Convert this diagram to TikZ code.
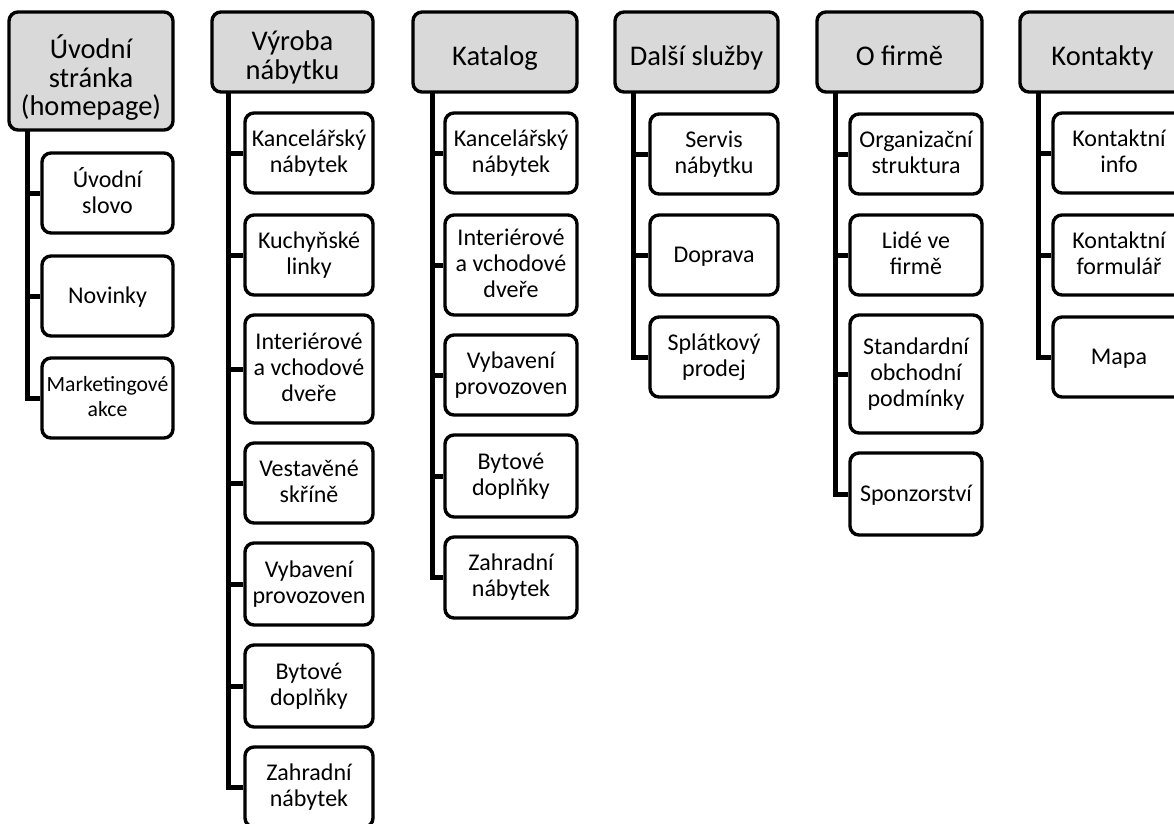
\documentclass[tikz,border=0pt]{standalone}
\usepackage{fontspec}
\setmainfont{Carlito}
\definecolor{headgray}{HTML}{D9D9D9}
\newcommand{\toppad}[1]{\rule{0pt}{#1em}}
\tikzset{
  box/.style={draw=black, line width=3.4pt, rounded corners=9pt, inner sep=0pt, align=center, text=black,
    execute at begin node={\vphantom{Ý}}, execute at end node={\vphantom{gy}}},
  headbox/.style={box, fill=headgray, font=\fontsize{28.5}{28.5}\selectfont,
    execute at begin node={\rule{0pt}{1.15em}}},
  childbox/.style={box, fill=white, font=\fontsize{24}{26}\selectfont},
  conn/.style={draw=black, line width=5pt, line join=miter},
}
\begin{document}
\begin{tikzpicture}[x=1pt, y=1pt]
\useasboundingbox (0,0) rectangle (1174,-823);
\clip (0,0) rectangle (1174,-823);
% ---------- Column 1
\node[headbox, minimum width=164, minimum height=118] (h1) at (91,-71) {\toppad{1.3}Úvodní\\stránka\\(homepage)};
\node[childbox, minimum width=131, minimum height=80] (c11) at (107.5,-193) {Úvodní\\slovo};
\node[childbox, minimum width=131, minimum height=80] (c12) at (107.5,-296) {Novinky};
\node[childbox, minimum width=131, minimum height=80, font=\fontsize{21.7}{25}\selectfont] (c13) at (107.5,-398) {Marketingové\\akce};
\coordinate (t1) at (27,-130);
% ---------- Column 2
\node[headbox, minimum width=161, minimum height=80] (h2) at (292.5,-52) {\toppad{1.08}Výroba\\nábytku};
\node[childbox, minimum width=128, minimum height=80] (c21) at (309,-153) {Kancelářský\\nábytek};
\node[childbox, minimum width=128, minimum height=80] (c22) at (309,-255) {Kuchyňské\\linky};
\node[childbox, minimum width=128, minimum height=108] (c23) at (309,-369) {Interiérové\\a vchodové\\dveře};
\node[childbox, minimum width=128, minimum height=80] (c24) at (309,-483) {Vestavěné\\skříně};
\node[childbox, minimum width=128, minimum height=82] (c25) at (309,-584) {Vybavení\\provozoven};
\node[childbox, minimum width=128, minimum height=82] (c26) at (309,-686) {Bytové\\doplňky};
\node[childbox, minimum width=128, minimum height=80] (c27) at (309,-787) {Zahradní\\nábytek};
\coordinate (t2) at (228,-92);
% ---------- Column 3
\node[headbox, minimum width=164, minimum height=80] (h3) at (495,-52) {Katalog};
\node[childbox, minimum width=132, minimum height=80] (c31) at (511,-153) {Kancelářský\\nábytek};
\node[childbox, minimum width=132, minimum height=100] (c32) at (511,-265) {Interiérové\\a vchodové\\dveře};
\node[childbox, minimum width=132, minimum height=80] (c33) at (511,-375) {Vybavení\\provozoven};
\node[childbox, minimum width=132, minimum height=82] (c34) at (511,-476) {Bytové\\doplňky};
\node[childbox, minimum width=132, minimum height=81] (c35) at (511,-577.5) {Zahradní\\nábytek};
\coordinate (t3) at (432,-92);
% ---------- Column 4
\node[headbox, minimum width=163, minimum height=80] (h4) at (696.5,-52) {Další služby};
\node[childbox, minimum width=128, minimum height=80] (c41) at (714,-154) {Servis\\nábytku};
\node[childbox, minimum width=128, minimum height=80] (c42) at (714,-255) {Doprava};
\node[childbox, minimum width=128, minimum height=80] (c43) at (714,-357) {Splátkový\\prodej};
\coordinate (t4) at (633,-92);
% ---------- Column 5
\node[headbox, minimum width=165, minimum height=80] (h5) at (899.5,-52) {O firmě};
\node[childbox, minimum width=132, minimum height=80] (c51) at (916,-154) {Organizační\\struktura};
\node[childbox, minimum width=132, minimum height=80] (c52) at (916,-255) {Lidé ve\\firmě};
\node[childbox, minimum width=132, minimum height=118] (c53) at (916,-374) {Standardní\\obchodní\\podmínky};
\node[childbox, minimum width=132, minimum height=82] (c54) at (916,-494) {Sponzorství};
\coordinate (t5) at (835,-92);
% ---------- Column 6
\node[headbox, minimum width=165, minimum height=80] (h6) at (1102.5,-52) {Kontakty};
\node[childbox, minimum width=132, minimum height=80] (c61) at (1119,-153) {Kontaktní\\info};
\node[childbox, minimum width=132, minimum height=80] (c62) at (1119,-255) {Kontaktní\\formulář};
\node[childbox, minimum width=132, minimum height=80] (c63) at (1119,-357) {Mapa};
\coordinate (t6) at (1038,-92);
% ---------- Connectors
\draw[conn] (t1) |- (c13.west);
\draw[conn] (t1) |- (c11.west);
\draw[conn] (t1) |- (c12.west);
\draw[conn] (t2) |- (c27.west);
\foreach \c in {c21,c22,c23,c24,c25,c26} \draw[conn] (t2) |- (\c.west);
\draw[conn] (t3) |- (c35.west);
\foreach \c in {c31,c32,c33,c34} \draw[conn] (t3) |- (\c.west);
\draw[conn] (t4) |- (c43.west);
\foreach \c in {c41,c42} \draw[conn] (t4) |- (\c.west);
\draw[conn] (t5) |- (c54.west);
\foreach \c in {c51,c52,c53} \draw[conn] (t5) |- (\c.west);
\draw[conn] (t6) |- (c63.west);
\foreach \c in {c61,c62} \draw[conn] (t6) |- (\c.west);
\end{tikzpicture}
\end{document}
